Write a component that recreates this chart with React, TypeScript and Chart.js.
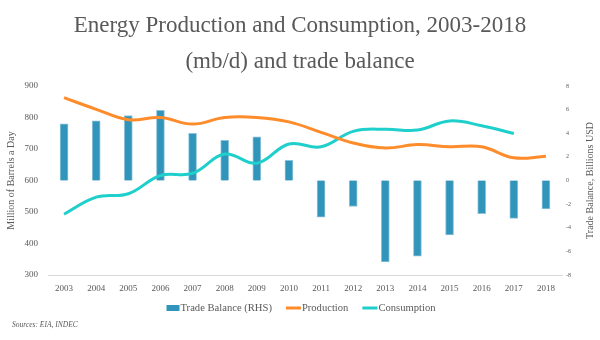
import React, { useEffect, useRef } from "react";
import { Chart, registerables } from "chart.js";

Chart.register(...registerables);

const years = ["2003","2004","2005","2006","2007","2008","2009","2010","2011","2012","2013","2014","2015","2016","2017","2018"];
const tradeBalance = [4.8, 5.05, 5.5, 5.95, 4.0, 3.4, 3.7, 1.7, -3.1, -2.2, -6.9, -6.4, -4.6, -2.8, -3.2, -2.4];
const production = [863, 826, 793, 800, 779, 800, 800, 786, 753, 719, 703, 714, 707, 707, 672, 677];
const consumption = [493, 547, 558, 616, 623, 684, 655, 716, 707, 756, 763, 760, 789, 774, 749, null];

const titleLines = ["Energy Production and Consumption, 2003-2018", "(mb/d) and trade balance"];
const leftTitle = "Million of Barrels a Day";
const rightTitle = "Trade Balance, Billions USD";
const sourceText = "Sources: EIA, INDEC";

const SERIF = "'Liberation Serif', 'DejaVu Serif', serif";
const GREY = "#595959";
const BAR = "#3194BA";
const ORANGE = "#FF8C2B";
const TEAL = "#1ECFCB";

const extrasPlugin = {
  id: "extras",
  afterDraw(chart: any) {
    const ctx = chart.ctx;
    const area = chart.chartArea;

    // title
    ctx.save();
    ctx.font = "23px " + SERIF;
    ctx.fillStyle = GREY;
    ctx.textAlign = "center";
    ctx.textBaseline = "alphabetic";
    ctx.fillText(titleLines[0], 300, 32);
    ctx.fillText(titleLines[1], 300, 68);
    ctx.restore();

    // right axis title, reading bottom to top
    ctx.save();
    ctx.font = "10px " + SERIF;
    ctx.fillStyle = GREY;
    ctx.textAlign = "center";
    ctx.textBaseline = "middle";
    ctx.translate(590, (area.top + area.bottom) / 2);
    ctx.rotate(-Math.PI / 2);
    ctx.fillText(rightTitle, 0, 0);
    ctx.restore();

    // legend
    ctx.save();
    ctx.font = "10.6px " + SERIF;
    ctx.textBaseline = "middle";
    ctx.textAlign = "left";
    const items = chart.data.datasets.map((ds: any) => ({
      label: ds.label,
      color: ds.type === "bar" ? BAR : ds.borderColor,
      isBar: ds.type === "bar",
    }));
    const markerW = (it: any) => (it.isBar ? 13 : 15);
    const gapAfterMarker = 1;
    const gapBetween = 14;
    let total = 0;
    items.forEach((it: any, i: number) => {
      total += markerW(it) + gapAfterMarker + ctx.measureText(it.label).width;
      if (i < items.length - 1) total += gapBetween;
    });
    let x = 301 - total / 2;
    const y = 308;
    items.forEach((it: any) => {
      ctx.fillStyle = it.color;
      if (it.isBar) ctx.fillRect(x, y - 3, 13, 6);
      else ctx.fillRect(x, y - 1.5, 15, 3);
      x += markerW(it) + gapAfterMarker;
      ctx.fillStyle = GREY;
      ctx.fillText(it.label, x, y);
      x += ctx.measureText(it.label).width + gapBetween;
    });
    ctx.restore();

    // source note
    ctx.save();
    ctx.font = "italic 7.5px " + SERIF;
    ctx.fillStyle = GREY;
    ctx.textAlign = "left";
    ctx.textBaseline = "middle";
    ctx.fillText(sourceText, 12, 325);
    ctx.restore();
  },
};

export default function App() {
  const ref = useRef<HTMLCanvasElement | null>(null);
  useEffect(() => {
    if (!ref.current) return;
    const chart = new Chart(ref.current, {
      type: "bar",
      data: {
        labels: years,
        datasets: [
          {
            type: "bar",
            label: "Trade Balance (RHS)",
            data: tradeBalance,
            yAxisID: "y1",
            backgroundColor: BAR,
            borderColor: "#8cc4da",
            borderWidth: 1,
            barThickness: 8,
            order: 3,
          } as any,
          {
            type: "line",
            label: "Production",
            data: production,
            yAxisID: "y",
            borderColor: ORANGE,
            backgroundColor: ORANGE,
            borderWidth: 3,
            pointRadius: 0,
            tension: 0.4,
            order: 1,
          } as any,
          {
            type: "line",
            label: "Consumption",
            data: consumption,
            yAxisID: "y",
            borderColor: TEAL,
            backgroundColor: TEAL,
            borderWidth: 3,
            pointRadius: 0,
            tension: 0.4,
            order: 2,
          } as any,
        ],
      },
      options: {
        responsive: false,
        animation: false,
        layout: { padding: { left: 1, right: 29, top: 86, bottom: 46 } },
        plugins: {
          title: { display: false },
          legend: { display: false },
          tooltip: { enabled: false },
        },
        scales: {
          x: {
            grid: { display: false, drawTicks: false, tickLength: 0 },
            border: { display: true, color: "#d9d9d9" },
            ticks: { color: GREY, font: { family: SERIF, size: 9 }, maxRotation: 0, padding: 8 },
            afterFit(scale: any) { scale.height = 19; },
          },
          y: {
            position: "left",
            min: 300,
            max: 900,
            ticks: { stepSize: 100, color: GREY, font: { family: SERIF, size: 9 }, padding: 10 },
            grid: { display: false, drawTicks: false, tickLength: 0 },
            border: { display: false },
            title: {
              display: true,
              text: leftTitle,
              color: GREY,
              font: { family: SERIF, size: 10 },
              padding: { top: 4, bottom: 8 },
            },
            afterFit(scale: any) { scale.width = 47; },
          },
          y1: {
            position: "right",
            min: -8,
            max: 8,
            ticks: { stepSize: 2, color: GREY, font: { family: SERIF, size: 6 }, padding: 4 },
            grid: { display: false, drawTicks: false, tickLength: 0 },
            border: { display: false },
            afterFit(scale: any) { scale.width = 9; },
          },
        },
      } as any,
      plugins: [extrasPlugin],
    });
    return () => chart.destroy();
  }, []);
  return (
    <div style={{ position: "absolute", left: 0, top: 0, width: 600, height: 340, background: "#fff" }}>
      <canvas ref={ref} width={600} height={340} />
    </div>
  );
}
